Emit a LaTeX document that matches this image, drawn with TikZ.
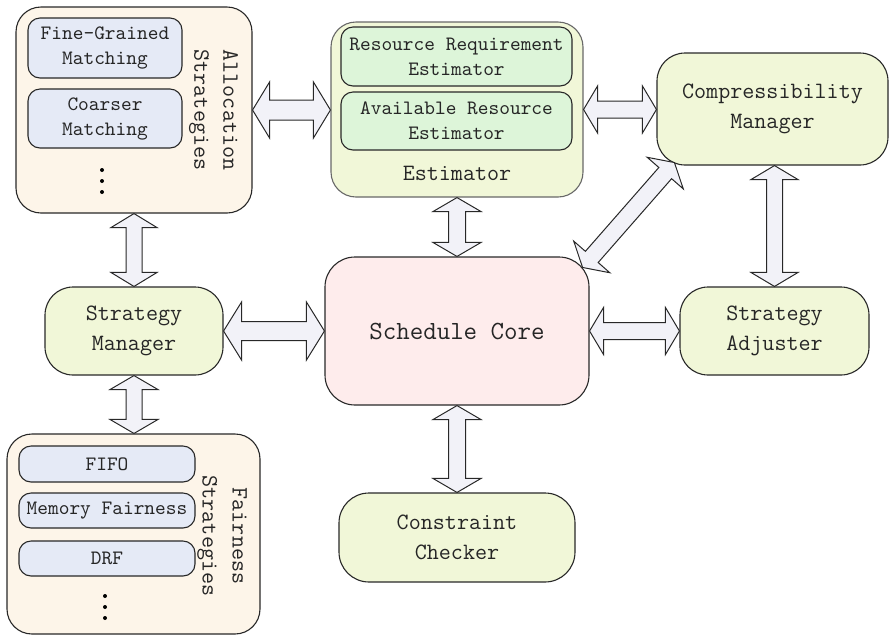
\documentclass[tikz,border=0pt]{standalone}
\usepackage{fontspec}
\usetikzlibrary{calc}
\definecolor{orangebg}{RGB}{253,245,233}
\definecolor{bluebox}{RGB}{229,234,246}
\definecolor{yelbox}{RGB}{241,247,216}
\definecolor{greenbox}{RGB}{221,245,217}
\definecolor{pinkbox}{RGB}{254,236,236}
\definecolor{arrowfill}{RGB}{242,242,248}
\definecolor{edgecol}{RGB}{40,40,40}
\newcommand\dblarr[5]{%
  \coordinate (t1) at (#1);
  \coordinate (t2) at (#2);
  \coordinate (h1) at ($(t1)!#3!(t2)$);
  \coordinate (h2) at ($(t2)!#3!(t1)$);
  \draw[bigarrow] (t1) -- ($(h1)!#4!90:(t2)$) -- ($(h1)!#5!90:(t2)$)
    -- ($(h2)!#5!-90:(t1)$) -- ($(h2)!#4!-90:(t1)$) -- (t2)
    -- ($(h2)!#4!90:(t1)$) -- ($(h2)!#5!90:(t1)$)
    -- ($(h1)!#5!-90:(t2)$) -- ($(h1)!#4!-90:(t2)$) -- cycle;
}
\tikzset{
  box/.style={draw=edgecol, line width=0.55pt, rounded corners=#1, inner sep=0pt, align=center, text=black!85},
  box/.default=14pt,
  smalltxt/.style={font=\ttfamily\fontsize{10.2}{12.5}\selectfont},
  midtxt/.style={font=\ttfamily\fontsize{11.7}{15}\selectfont},
  bigtxt/.style={font=\ttfamily\fontsize{13.1}{16}\selectfont},
  bigarrow/.style={draw=edgecol, fill=arrowfill, line width=0.5pt, line join=miter},
}
\begin{document}
\begin{tikzpicture}[x=0.5pt, y=-0.5pt]
\useasboundingbox (0,0) rectangle (890,639);
% Allocation strategies
\node[box=12.5pt, fill=orangebg, minimum width=118pt, minimum height=103pt] (alloc) at (134,110) {};
\node[box=6pt, fill=bluebox, smalltxt, minimum width=77pt, minimum height=30pt] (fine) at (105,48) {Fine-Grained\\Matching};
\node[box=6pt, fill=bluebox, smalltxt, minimum width=77pt, minimum height=29.5pt] (coarse) at (105,118.5) {Coarser\\Matching};
\node[rotate=-90, align=center, text=black!85, font=\ttfamily\fontsize{11.7}{14.5}\selectfont] (alloctxt) at (213.5,110) {Allocation\\Strategies};
\foreach \yy [count=\i] in {170,181,192} \fill (102,\yy) circle (1pt) coordinate (ad\i);
% Estimator
\node[box=12.5pt, fill=yelbox, draw=edgecol!70, minimum width=126pt, minimum height=87.5pt] (est) at (457,109.5) {};
\node[box=6pt, fill=greenbox, smalltxt, minimum width=115.5pt, minimum height=29.5pt] (rre) at (456.5,56.5) {Resource Requirement\\Estimator};
\node[box=6pt, fill=greenbox, smalltxt, minimum width=115.5pt, minimum height=29pt] (are) at (456.5,121) {Available Resource\\Estimator};
\node[midtxt, text=black!85] (esttxt) at (457,173) {Estimator};
% Compressibility manager
\node[box=14pt, fill=yelbox, midtxt, minimum width=115.5pt, minimum height=56pt] (comp) at (772.5,109) {Compressibility\\Manager};
% Schedule core
\node[box=15pt, fill=pinkbox, bigtxt, minimum width=132pt, minimum height=74pt] (sched) at (457,331) {Schedule Core};
% Strategy manager
\node[box=14pt, fill=yelbox, midtxt, minimum width=89pt, minimum height=44pt] (mgr) at (134,331) {Strategy\\Manager};
% Strategy adjuster
\node[box=14pt, fill=yelbox, midtxt, minimum width=94.5pt, minimum height=44pt] (adj) at (774.5,331) {Strategy\\Adjuster};
% Constraint checker
\node[box=15pt, fill=yelbox, midtxt, minimum width=118pt, minimum height=44.5pt] (cons) at (457,537.5) {Constraint\\Checker};
% Fairness strategies
\node[box=12.5pt, fill=orangebg, minimum width=126.5pt, minimum height=100pt] (fair) at (133.5,534) {};
\node[box=6pt, fill=bluebox, smalltxt, minimum width=88pt, minimum height=18pt] (fifo) at (107,464) {FIFO};
\node[box=6pt, fill=bluebox, smalltxt, minimum width=88pt, minimum height=17.5pt] (mem) at (107,510.5) {Memory Fairness};
\node[box=6pt, fill=bluebox, smalltxt, minimum width=88pt, minimum height=17.5pt] (drf) at (107,558.5) {DRF};
\node[rotate=-90, align=center, text=black!85, font=\ttfamily\fontsize{11.7}{15}\selectfont] (fairtxt) at (222,536) {Fairness\\Strategies};
\foreach \yy [count=\i] in {596,607,618} \fill (105,\yy) circle (1pt) coordinate (fd\i);
% Arrows
\dblarr{alloc.east}{alloc.east -| est.west}{8.5pt}{14pt}{5pt}
\dblarr{est.east}{est.east -| comp.west}{7pt}{11.75pt}{4.25pt}
\dblarr{est.south}{est.south |- sched.north}{7pt}{12pt}{4.25pt}
\dblarr{$(sched.north east)+(-7,11)$}{$(comp.south west)+(18,-3)$}{7pt}{12pt}{4.25pt}
\dblarr{adj.north |- comp.south}{adj.north}{7pt}{11.75pt}{4pt}
\dblarr{mgr.east}{mgr.east -| sched.west}{9pt}{14.5pt}{4.75pt}
\dblarr{sched.east}{sched.east -| adj.west}{7pt}{11.75pt}{4.25pt}
\dblarr{alloc.south}{alloc.south |- mgr.north}{7pt}{11.5pt}{4pt}
\dblarr{mgr.south}{mgr.south |- fair.north}{7pt}{12pt}{4pt}
\dblarr{sched.south}{sched.south |- cons.north}{7pt}{12pt}{4.25pt}
\end{tikzpicture}
\end{document}
